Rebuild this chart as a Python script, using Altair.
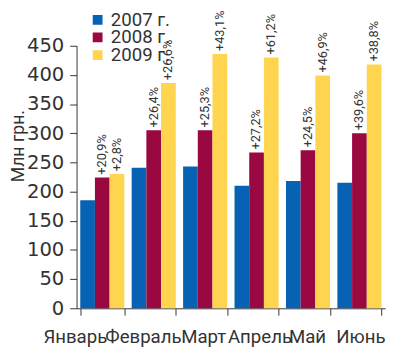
import altair as alt
import pandas as pd

months = ["Январь", "Февраль", "Март", "Апрель", "Май", "Июнь"]
years = ["2007 г.", "2008 г.", "2009 г."]
v2007 = [185, 241, 243, 210, 218, 215]
v2008 = [224, 305, 305, 267, 271, 300]
v2009 = [230, 386, 436, 430, 399, 418]
pct2008 = ["+20,9%", "+26,4%", "+25,3%", "+27,2%", "+24,5%", "+39,6%"]
pct2009 = ["+2,8%", "+26,6%", "+43,1%", "+61,2%", "+46,9%", "+38,8%"]
colors = ["#0862B3", "#9A0842", "#FFD54F"]
# horizontal nudge of each month label (the original packs them side by side)
label_shift = [-28, -11, -2, 3, -1, 1]

rows = []
for i, m in enumerate(months):
    rows.append({"month": m, "year": years[0], "value": v2007[i], "label": ""})
    rows.append({"month": m, "year": years[1], "value": v2008[i], "label": pct2008[i]})
    rows.append({"month": m, "year": years[2], "value": v2009[i], "label": pct2009[i]})
df = pd.DataFrame(rows)

offset_cond = {
    "condition": [
        {"test": f"datum.value === '{m}'", "value": s} for m, s in zip(months, label_shift)
    ],
    "value": 0,
}

base = alt.Chart(df).encode(
    x=alt.X(
        "month:N",
        sort=months,
        scale=alt.Scale(paddingInner=0.143, paddingOuter=0.0714),
        axis=alt.Axis(
            title=None,
            labelAngle=0,
            labelFont="Roboto",
            labelFontSize=19,
            labelColor="#333333",
            labelPadding=13,
            labelOffset=offset_cond,
            tickBand="extent",
            tickSize=7,
            tickColor="#333333",
            domainColor="#333333",
            labelOverlap=False,
        ),
    ),
    xOffset=alt.XOffset("year:N", sort=years, scale=alt.Scale(paddingInner=0, paddingOuter=0)),
    y=alt.Y(
        "value:Q",
        scale=alt.Scale(domain=[0, 450], nice=False),
        axis=alt.Axis(
            values=[0, 50, 100, 150, 200, 250, 300, 350, 400, 450],
            grid=False,
            title="Млн грн.",
            titleFont="Roboto",
            titleFontSize=18,
            titleFontWeight="normal",
            titleColor="#333333",
            titleAngle=270,
            titleAlign="center",
            titleBaseline="middle",
            titleX=-59,
            titleY=102,
            labelFont="DejaVu Sans",
            labelFontSize=20,
            labelColor="#333333",
            labelPadding=6,
            tickSize=7,
            tickColor="#333333",
            domainColor="#333333",
        ),
    ),
)

bars = base.mark_bar().encode(
    color=alt.Color(
        "year:N",
        sort=years,
        scale=alt.Scale(domain=years, range=colors),
        legend=alt.Legend(
            title=None,
            orient="none",
            legendX=12,
            legendY=-34,
            padding=0,
            symbolType="square",
            symbolSize=100,
            symbolStrokeWidth=0,
            symbolOpacity=1,
            labelFont="Roboto",
            labelFontSize=19,
            labelColor="#333333",
            labelOffset=4,
            clipHeight=15,
            rowPadding=-2,
        ),
    )
)

text = base.mark_text(
    angle=270, align="left", baseline="middle", dx=3, font="Roboto", fontSize=13, color="#333333"
).encode(text="label:N")

chart = (
    alt.layer(bars, text)
    .properties(
        width=315,
        height=268,
        autosize=alt.AutoSizeParams(type="none"),
        padding={"left": 70, "top": 35, "right": 7, "bottom": 38},
    )
    .configure_view(stroke=None)
)

chart.save("out.html", embed_options={"renderer": "svg", "actions": False})
